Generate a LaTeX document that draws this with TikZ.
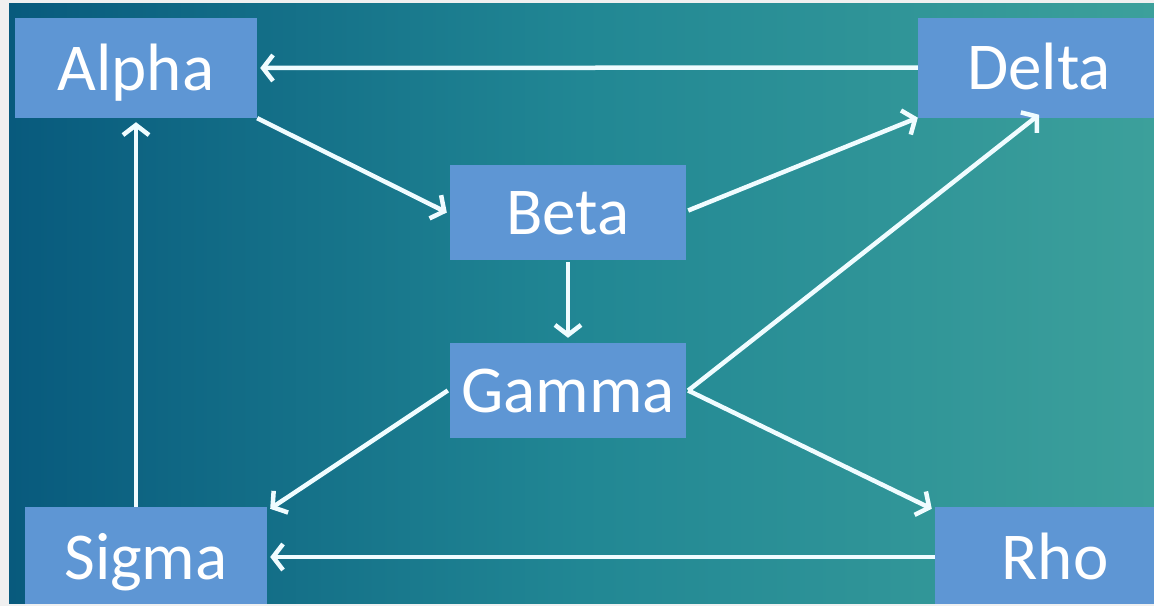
\documentclass[tikz,border=0pt]{standalone}
\usepackage{fontspec}
\setmainfont{Carlito}
\usetikzlibrary{arrows.meta}
\definecolor{boxblue}{RGB}{94,150,212}
\definecolor{bgleft}{RGB}{8,90,125}
\definecolor{bgmid}{RGB}{33,135,148}
\definecolor{bgright}{RGB}{60,160,155}
\definecolor{marginc}{RGB}{240,240,240}
\definecolor{linkc}{RGB}{240,252,255}
\begin{document}
\begin{tikzpicture}[x=1pt,y=-1pt,
  box/.style={fill=boxblue, minimum width=242pt, minimum height=100pt, inner sep=0pt,
    text=white, font=\fontsize{67}{67}\selectfont, text height=50pt, text depth=6pt},
  link/.style={draw=linkc, line width=4.5pt, -{Straight Barb[length=10pt,width=26pt]}}]
\useasboundingbox (0,0) rectangle (1154,606);
\fill[marginc] (0,0) rectangle (1154,606);
\shade[left color=bgleft, right color=bgright, middle color=bgmid] (9,3) rectangle (1154,603);
\begin{scope}
\clip (9,3) rectangle (1154,603);
\node[box] (alpha) at (136,68) {Alpha};
\node[box] (delta) at (1039,67.5) {Delta};
\node[box, minimum width=236pt, minimum height=95pt] (beta) at (568,212.5) {Beta};
\node[box, minimum width=236pt, minimum height=95pt] (gamma) at (568,390.5) {Gamma};
\node[box] (sigma) at (146,557) {Sigma};
\node[box, minimum width=240pt] (rho) at (1055,557) {Rho};
\end{scope}
\draw[link] (delta.west) -- ([xshift=3pt]alpha.east);
\draw[link] (alpha.south east) -- ([xshift=-3pt]beta.west);
\draw[link] ([xshift=2pt,yshift=2pt]beta.east) -- (delta.south west);
\draw[link, shorten <=2pt, shorten >=5pt] (beta.south) -- (gamma.north);
\draw[link] ([xshift=2pt]gamma.east) -- ([yshift=3pt]delta.south);
\draw[link] ([xshift=-2pt]gamma.west) -- ([xshift=3pt,yshift=-2pt]sigma.north east);
\draw[link] ([xshift=2pt]gamma.east) -- ([xshift=-3pt,yshift=-2pt]rho.north west);
\draw[link] (rho.west) -- ([xshift=3pt]sigma.east);
\draw[link, shorten >=4pt] (sigma.north -| alpha.south) -- (alpha.south);
\end{tikzpicture}
\end{document}
